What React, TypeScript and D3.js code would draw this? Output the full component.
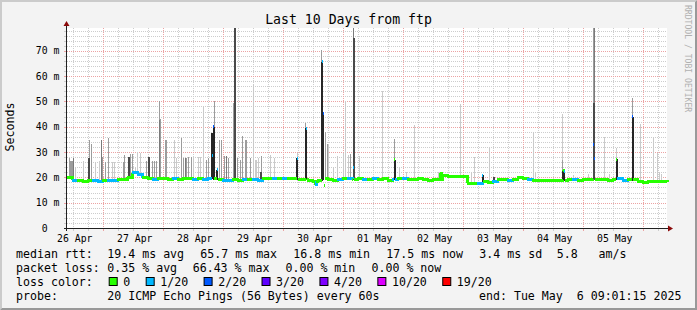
import React from "react";
import * as d3 from "d3";

// ---------- data ----------
const START = Date.UTC(2025, 3, 26, 9, 30);
const SPAN_HOURS = 240;
const STEP_HOURS = 2;
const COLUMN_HOURS = 0.4;
const Y_MAX = 79;

// median rtt (ms), one value every 2 hours from the start
const medianBase = [
  19.8, 18.8, 18.6, 18.3, 18.6, 18.7, 18.5, 18.8, 18.6, 18.9,
  19.1, 19.3, 20.0, 21.8, 21.2, 19.9, 19.6, 19.2, 19.4, 19.7,
  19.1, 19.5, 19.3, 19.6, 19.4, 19.2, 19.5, 19.3, 19.6, 19.5,
  19.0, 18.7, 18.9, 19.2, 18.8, 19.0, 19.3, 19.1, 18.9, 19.4,
  19.6, 19.5, 19.7, 19.4, 19.6, 19.4, 19.0, 19.3, 18.9, 18.5,
  18.9, 19.5, 19.1, 18.8, 19.3, 19.5, 19.5, 19.2, 19.4, 19.0,
  19.3, 19.6, 19.1, 19.4, 18.9, 19.3, 19.5, 19.6, 19.2, 19.0,
  19.4, 19.1, 18.8, 19.2, 19.3, 20.8, 20.4, 20.3, 20.4, 20.2,
  17.6, 17.6, 17.5, 18.2, 18.0, 18.5, 19.0, 19.2, 18.8, 19.3,
  19.9, 19.5, 19.0, 18.7, 18.6, 18.8, 18.7, 18.9, 18.6, 18.8,
  19.0, 19.2, 18.9, 19.1, 19.0, 19.2, 19.0, 19.1, 18.9, 19.2,
  19.4, 18.8, 19.0, 19.0, 18.4, 18.0, 18.3, 18.4, 18.2, 18.5,
  18.0,
];
// loss class index of each median value (0 = no loss, 1 = 1/20, 2 = 2/20 ...)
const medianBaseLoss = [
  0, 1, 0, 0, 0, 1, 1, 0, 1, 1,
  0, 0, 0, 1, 1, 0, 0, 1, 0, 0,
  0, 1, 0, 0, 0, 1, 0, 1, 1, 0,
  0, 1, 1, 0, 0, 1, 0, 1, 1, 0,
  0, 1, 0, 1, 0, 0, 0, 0, 0, 0,
  0, 0, 0, 0, 1, 0, 1, 0, 0, 1,
  0, 1, 0, 0, 0, 1, 0, 1, 0, 0,
  0, 0, 0, 0, 0, 0, 0, 0, 0, 0,
  0, 0, 1, 0, 0, 1, 0, 0, 1, 0,
  0, 0, 1, 0, 0, 0, 0, 0, 0, 0,
  0, 1, 0, 0, 0, 0, 0, 0, 0, 0,
  1, 1, 0, 0, 0, 0, 0, 0, 0, 0,
  0,
];
// short median excursions: [hours since start, ms, loss class]
const medianSpikes: [number, number, number][] = [
  [57.9, 28.5, 1], [58.5, 40.0, 2], [59.9, 23.0, 1],
  [91.9, 27.5, 1], [95.5, 39.4, 1], [99.2, 17.0, 1],
  [101.9, 65.7, 1], [102.3, 45.3, 2], [102.9, 16.8, 0],
  [114.5, 23.8, 1], [130.9, 26.9, 0], [149.2, 21.6, 0],
  [166.1, 20.9, 1], [198.2, 22.9, 0], [198.6, 22.5, 1],
  [210.5, 32.8, 2], [210.9, 27.5, 2], [219.7, 27.1, 0],
  [226.0, 44.0, 2],
];
// smoke: [hours since start, highest ping ms, darkness 1..5]
const smoke: [number, number, number][] = [
  [0.8, 27.5, 2], [1.2, 26.5, 2], [1.6, 26.5, 2], [2.1, 26.5, 2], [2.7, 27.5, 3], [3.2, 24.2, 1],
  [6.5, 26.5, 1], [8.5, 27.5, 4], [8.9, 34.8, 2], [9.6, 33.0, 2], [11.2, 26.2, 1], [12.9, 26.5, 1],
  [13.6, 34.8, 3], [14.3, 28.0, 2], [15.2, 26.2, 2], [16.5, 35.5, 2], [18.3, 26.2, 1], [18.9, 26.2, 1],
  [22.5, 26.2, 2], [22.9, 28.8, 2], [24.5, 28.0, 4], [25.5, 29.2, 2], [26.0, 29.2, 2], [27.2, 24.2, 1],
  [28.1, 30.2, 1], [29.2, 29.8, 1], [31.6, 26.5, 2], [32.5, 28.2, 4], [34.0, 26.5, 2], [34.9, 26.5, 2],
  [35.9, 26.5, 2], [36.8, 50.0, 2], [36.8, 42.7, 3], [37.2, 43.0, 2], [39.2, 34.8, 2], [39.9, 34.8, 2],
  [42.9, 34.8, 1], [43.9, 27.5, 1], [45.9, 35.5, 2], [46.5, 27.5, 2], [47.2, 27.5, 3], [47.8, 27.5, 2],
  [48.5, 28.0, 2], [49.9, 28.2, 2], [50.5, 28.2, 1], [52.5, 28.0, 1], [53.2, 28.0, 1], [54.5, 48.0, 1],
  [55.9, 27.0, 2], [56.5, 27.5, 2], [57.9, 37.7, 5], [58.5, 40.0, 5], [58.9, 50.0, 2], [59.9, 23.0, 5],
  [60.9, 34.8, 2], [61.9, 34.8, 2], [62.8, 28.5, 2], [63.9, 28.5, 3], [64.5, 27.5, 2], [66.5, 49.4, 2],
  [66.9, 78.9, 4], [68.1, 27.5, 2], [69.2, 27.0, 2], [70.3, 36.4, 2], [71.2, 34.8, 2], [71.9, 34.8, 2],
  [73.2, 27.5, 2], [74.5, 57.0, 1], [75.2, 27.0, 1], [75.9, 27.0, 1], [76.5, 27.5, 1], [77.5, 22.0, 4],
  [77.9, 28.5, 2], [81.5, 29.0, 1], [83.0, 27.5, 1],
  [91.9, 27.5, 5], [92.3, 29.5, 1], [95.5, 41.4, 2], [95.5, 39.4, 5], [101.9, 70.3, 2], [101.9, 65.7, 5],
  [102.3, 45.3, 5], [102.7, 38.0, 2], [103.6, 38.0, 2], [104.1, 33.0, 2], [104.5, 33.0, 1],
  [106.5, 24.0, 1], [108.3, 28.6, 1], [110.4, 29.5, 1], [111.2, 50.2, 1], [112.5, 29.0, 1], [113.2, 29.2, 2],
  [114.5, 78.9, 3], [114.5, 74.9, 4], [116.9, 28.6, 1], [126.1, 54.1, 1], [130.9, 35.0, 2], [130.9, 26.9, 5],
  [133.2, 24.0, 1], [135.9, 22.2, 1], [138.8, 40.7, 1], [148.5, 22.2, 1], [157.3, 48.8, 1], [161.9, 22.2, 1],
  [163.0, 28.2, 1], [166.1, 20.9, 5], [168.9, 31.7, 1], [170.5, 20.0, 4], [186.5, 38.0, 1], [187.2, 22.0, 1],
  [198.0, 44.9, 1], [198.2, 26.9, 2], [198.2, 22.9, 5], [198.6, 22.5, 5], [202.4, 21.0, 1], [208.4, 21.5, 1],
  [210.5, 78.9, 2], [210.5, 49.2, 4], [210.9, 78.9, 3], [215.2, 35.8, 1], [216.9, 21.5, 1], [219.7, 31.5, 1],
  [219.7, 27.1, 5], [226.0, 51.2, 2], [226.0, 44.0, 5], [229.2, 41.1, 1], [234.5, 36.1, 1], [236.3, 29.5, 1],
  [236.8, 22.0, 1], [237.6, 21.5, 1],
];

const lossLabels = ["0", "1/20", "2/20", "3/20", "4/20", "10/20", "19/20"];
const lossColors = ["#26ff00", "#00b8ff", "#0059ff", "#5e00ff", "#7e00ff", "#dd00ff", "#ff0000"];
const yLabelTicks = [0, 10, 20, 30, 40, 50, 60, 70];

const rttStats = ["19.4 ms avg", "65.7 ms max", "16.8 ms min", "17.5 ms now", "3.4 ms sd", "5.8   am/s"];
const lossStats = ["0.35 % avg", "66.43 % max", "0.00 % min", "0.00 % now"];
const probeText = "20 ICMP Echo Pings (56 Bytes) every 60s";
const endText = "end: Tue May  6 09:01:15 2025";
const titleText = "Last 10 Days from ftp";

// ---------- styles ----------
const FONT = "'DejaVu Sans Mono', monospace";
const smokeShades = ["", "#cacaca", "#9c9c9c", "#7a7a7a", "#4a4a4a", "#262626"];
const MINOR = "#cdcdcd";
const MAJOR = "#eca3a3";

export default function App() {
  const x = d3.scaleLinear().domain([0, SPAN_HOURS]).range([67, 667]);
  const tEnd = new Date(START + SPAN_HOURS * 3600000);
  const t = d3.scaleUtc().domain([new Date(START), tEnd]).range([67, 667]);
  const y = d3.scaleLinear().domain([0, Y_MAX]).range([228, 28]);
  const [x0, x1] = x.range();
  const [yB, yT] = y.range();

  const majorDays = d3.utcDay.range(new Date(START), tEnd);
  const minorHours = d3.utcHour
    .every(6)!
    .range(new Date(START), tEnd)
    .filter((d) => d.getUTCHours() !== 0);
  const labelDays = d3.utcDay
    .range(d3.utcDay.floor(new Date(START)), tEnd)
    .map((d) => d3.utcHour.offset(d, 12))
    .filter((d) => d >= new Date(START) && d <= tEnd);
  const fmt = d3.utcFormat("%d %b");

  const yMinor = d3.range(2, Y_MAX, 2).filter((v) => v % 10 !== 0);
  const yMajor = d3.range(10, Y_MAX, 10);

  const idxAt = (h: number) => Math.min(medianBase.length - 1, Math.floor(h / STEP_HOURS + 1e-9));
  const baseAt = (h: number) => medianBase[idxAt(h)];
  const baseLossAt = (h: number) => medianBaseLoss[idxAt(h)];

  type P = { h: number; v: number; loss: number; spike: boolean };
  const windows = medianSpikes.map(([h]) => [h, h + COLUMN_HOURS]);
  const pts: P[] = medianBase
    .map((v, i) => ({ h: i * STEP_HOURS, v, loss: medianBaseLoss[i], spike: false }))
    .filter((p) => !windows.some(([a, b]) => p.h > a && p.h < b + 1e-6));
  medianSpikes.forEach(([h, v, l]) => {
    pts.push({ h, v, loss: l, spike: true });
    const back = h + COLUMN_HOURS;
    if (!medianSpikes.some(([h2]) => h2 > h && h2 <= back + 0.05)) {
      pts.push({ h: back, v: baseAt(back), loss: baseLossAt(back), spike: true });
    }
  });
  pts.sort((a, b) => a.h - b.h);

  const smokeSorted = [...smoke].sort((a, b) => a[2] - b[2]);
  const px = (v: number) => Math.round(v) + 0.5;

  // legend loss boxes layout
  const CW = 6.98;
  let bx = 108.7;
  const boxes = lossLabels.map((lab, i) => {
    const item = { bx, tx: bx + 14.6, lab, color: lossColors[i] };
    bx = item.tx + lab.length * CW + 15.4;
    return item;
  });
  const rttX = [107.3, 200.3, 293.3, 386.3, 479.3, 556.7];
  const lossX = [107.3, 192.7, 285.5, 371.5];

  const textStyle: React.CSSProperties = { whiteSpace: "pre" };

  return (
    <svg
      width={697}
      height={310}
      style={{ position: "absolute", left: 0, top: 0, display: "block" }}
      fontFamily={FONT}
    >
      {/* background and frame */}
      <rect x={0} y={0} width={697} height={310} fill="#f3f3f3" />
      <polygon points="0,0 697,0 695,2 2,2 2,308 0,310" fill="#cbcbcb" />
      <polygon points="697,0 697,310 0,310 2,308 695,308 695,2" fill="#999999" />
      <rect x={x0} y={yT} width={x1 - x0} height={yB - yT} fill="#ffffff" />

      {/* grid */}
      <g shapeRendering="crispEdges">
        {yMinor.map((v) => (
          <g key={"ym" + v}>
            <line x1={x0} x2={x1} y1={px(y(v))} y2={px(y(v))} stroke={MINOR} strokeDasharray="1 1" />
            <line x1={x0 - 3} x2={x0} y1={px(y(v))} y2={px(y(v))} stroke={MINOR} />
          </g>
        ))}
        {minorHours.map((d) => (
          <g key={"xm" + d.getTime()}>
            <line x1={px(t(d))} x2={px(t(d))} y1={yT} y2={yB} stroke={MINOR} strokeDasharray="1 1" />
            <line x1={px(t(d))} x2={px(t(d))} y1={yB} y2={yB + 3} stroke={MINOR} />
          </g>
        ))}
        {yMajor.map((v) => (
          <g key={"yM" + v}>
            <line x1={x0} x2={x1} y1={px(y(v))} y2={px(y(v))} stroke={MAJOR} strokeDasharray="1 1" />
            <line x1={x0 - 3} x2={x0} y1={px(y(v))} y2={px(y(v))} stroke={MAJOR} />
          </g>
        ))}
        {majorDays.map((d) => (
          <g key={"xM" + d.getTime()}>
            <line x1={px(t(d))} x2={px(t(d))} y1={yT} y2={yB} stroke={MAJOR} strokeDasharray="1 1" />
            <line x1={px(t(d))} x2={px(t(d))} y1={yB} y2={yB + 3} stroke={MAJOR} />
          </g>
        ))}
      </g>

      {/* smoke */}
      <g shapeRendering="crispEdges">
        {smokeSorted.map(([h, top, lvl], i) => {
          const xa = Math.floor(x(h));
          const col = Math.max(1, Math.round(x(h + COLUMN_HOURS) - x(h)));
          const w = lvl >= 4 ? col + 1 : col;
          const yt = y(top);
          const yb = y(baseAt(h)) + 1;
          return <rect key={"s" + i} x={xa} y={yt} width={w} height={Math.max(1, yb - yt)} fill={smokeShades[lvl]} />;
        })}
      </g>

      {/* median: horizontal runs in loss colour, steps joined, spike jumps left to the smoke */}
      <g fill="none" strokeWidth={3} shapeRendering="crispEdges">
        {pts.slice(0, -1).map((p, i) => {
          const q = pts[i + 1];
          const join = !(p.spike || q.spike) || Math.abs(q.v - p.v) <= 2.5;
          const d = join
            ? `M${x(p.h)},${y(p.v)}H${x(q.h)}V${y(q.v)}`
            : `M${x(p.h)},${y(p.v)}H${x(q.h)}`;
          return <path key={"m" + i} d={d} stroke={lossColors[p.loss]} />;
        })}
      </g>

      {/* axes */}
      <g shapeRendering="crispEdges" stroke="#202020">
        <line x1={x0 - 3} x2={x1 + 2} y1={yB + 0.5} y2={yB + 0.5} />
        <line x1={x0 - 0.5} x2={x0 - 0.5} y1={yB + 3} y2={yT - 3} />
      </g>
      <polygon points={`${x1 + 1},${yB - 2.5} ${x1 + 1},${yB + 3.5} ${x1 + 6},${yB + 0.5}`} fill="#8b0a0a" />
      <polygon points={`${x0 - 3.5},${yT - 2} ${x0 + 2.5},${yT - 2} ${x0 - 0.5},${yT - 7}`} fill="#8b0a0a" />

      {/* y labels */}
      <g fontSize={9.8} fill="#000">
        {yLabelTicks.map((v) => (
          <g key={"yl" + v}>
            <text x={47.6} y={y(v) + 3.6} textAnchor="end">{v}</text>
            {v !== 0 && <text x={53.5} y={y(v) + 3.6}>m</text>}
          </g>
        ))}
      </g>
      {/* x labels */}
      <g fontSize={9.8} fill="#000">
        {labelDays.map((d) => (
          <text key={"xl" + d.getTime()} x={t(d) + 1.5} y={242} textAnchor="middle">
            {fmt(d)}
          </text>
        ))}
      </g>

      {/* title and axis title */}
      <text x={348.5} y={24} fontSize={13.2} textAnchor="middle" fill="#000">{titleText}</text>
      <text transform="translate(14,127) rotate(-90)" fontSize={11.6} textAnchor="middle" fill="#000">Seconds</text>
      <text transform="translate(685,5) rotate(90)" fontSize={8.1} fill="#b0b0b0">RRDTOOL / TOBI OETIKER</text>

      {/* legend */}
      <g fontSize={11.6} fill="#000" style={textStyle}>
        <text x={16} y={257.5} style={textStyle}>median rtt:</text>
        {rttStats.map((s, i) => (
          <text key={"r" + i} x={rttX[i]} y={257.5} style={textStyle}>{s}</text>
        ))}
        <text x={16} y={271.5} style={textStyle}>packet loss:</text>
        {lossStats.map((s, i) => (
          <text key={"l" + i} x={lossX[i]} y={271.5} style={textStyle}>{s}</text>
        ))}
        <text x={16} y={285.5} style={textStyle}>loss color:</text>
        {boxes.map((b, i) => (
          <g key={"b" + i}>
            <rect x={b.bx + 0.5} y={277.5} width={8} height={8} fill={b.color} stroke="#000" strokeWidth={1} />
            <text x={b.tx} y={285.5} style={textStyle}>{b.lab}</text>
          </g>
        ))}
        <text x={16} y={299.5} style={textStyle}>probe:</text>
        <text x={107.3} y={299.5} style={textStyle}>{probeText}</text>
        <text x={479} y={299.5} style={textStyle}>{endText}</text>
      </g>
    </svg>
  );
}
